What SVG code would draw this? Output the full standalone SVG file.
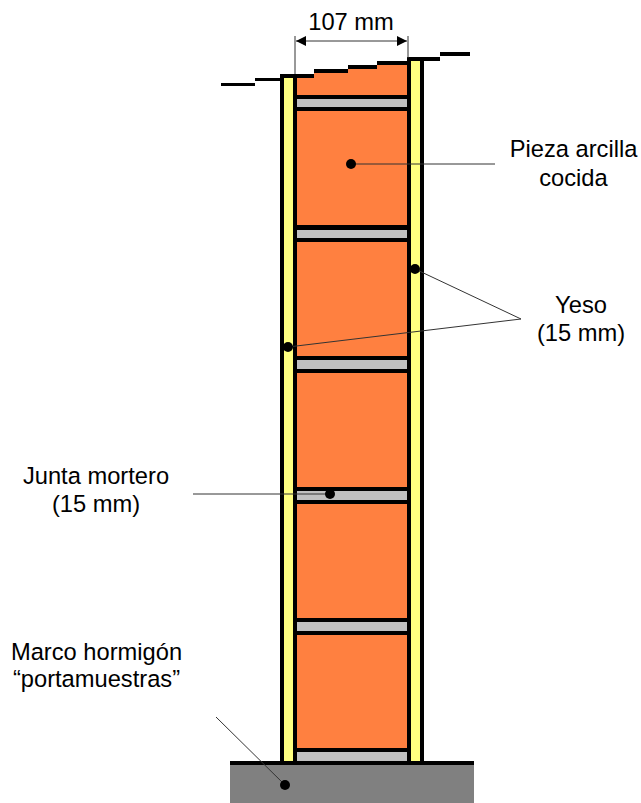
<svg xmlns="http://www.w3.org/2000/svg" width="641" height="803" viewBox="0 0 641 803">
<style>
.k{fill:#000}.o{fill:#ff8040}.y{fill:#ffff80}.g{fill:#c0c0c0}
.l{stroke:#333;stroke-width:1;fill:none}
text{font-family:"Liberation Sans",Arial,sans-serif;font-size:23.7px;fill:#000;text-anchor:middle}
</style>
<defs>
<marker id="a" markerWidth="11" markerHeight="11" refX="10" refY="5" orient="auto-start-reverse" markerUnits="userSpaceOnUse"><path d="M0 0L10 5L0 10Z" fill="#000"/></marker>
</defs>
<rect width="641" height="803" fill="#fff"/>
<g id="base"><rect x="230" y="765" width="244" height="38" fill="#808080"/><rect x="230" y="761" width="244" height="4" class="k"/></g>
<g id="wall">
<path class="o" d="M297 78H314V73H348V69H377V65H407V761H297Z"/>
<rect x="284" y="78" width="9" height="683" class="y"/>
<rect x="411" y="61" width="9" height="700" class="y"/>
<rect x="280" y="74" width="4" height="687" class="k"/>
<rect x="293" y="74" width="4" height="687" class="k"/>
<rect x="407" y="57" width="4" height="704" class="k"/>
<rect x="420" y="57" width="4" height="704" class="k"/>
<g id="joints">
<rect x="293" y="95" width="118" height="16" class="k"/><rect x="297" y="99" width="110" height="8" class="g"/>
<rect x="293" y="225" width="118" height="17" class="k"/><rect x="297" y="230" width="110" height="8" class="g"/>
<rect x="293" y="356" width="118" height="17" class="k"/><rect x="297" y="360" width="110" height="9" class="g"/>
<rect x="293" y="487" width="118" height="17" class="k"/><rect x="297" y="491" width="110" height="9" class="g"/>
<rect x="293" y="618" width="118" height="17" class="k"/><rect x="297" y="622" width="110" height="9" class="g"/>
<rect x="293" y="748" width="118" height="13" class="k"/><rect x="297" y="752" width="110" height="9" class="g"/>
</g>
<g id="top">
<rect x="221" y="83" width="34" height="3" class="k"/>
<rect x="255" y="78" width="26" height="3" class="k"/>
<rect x="280" y="74" width="34" height="4" class="k"/>
<rect x="314" y="69" width="34" height="4" class="k"/>
<rect x="348" y="65" width="29" height="4" class="k"/>
<rect x="377" y="61" width="31" height="4" class="k"/>
<rect x="407" y="57" width="33" height="4" class="k"/>
<rect x="440" y="52" width="30" height="4" class="k"/>
</g>
</g>
<g id="connectors">
<line class="l" x1="295" y1="36" x2="295" y2="74"/>
<line class="l" x1="408" y1="36" x2="408" y2="58"/>
<line class="l" x1="296" y1="41" x2="407" y2="41" marker-start="url(#a)" marker-end="url(#a)"/>
<line class="l" x1="351" y1="164" x2="495" y2="164"/>
<line class="l" x1="415" y1="269" x2="521" y2="319"/>
<line class="l" x1="288" y1="347" x2="521" y2="319"/>
<line class="l" x1="193" y1="494" x2="330" y2="494"/>
<line class="l" x1="216" y1="717" x2="285" y2="785"/>
</g>
<g id="dots" class="k">
<circle cx="351" cy="164" r="5"/><circle cx="415" cy="269" r="5"/><circle cx="288" cy="347" r="5"/><circle cx="330" cy="494" r="5"/><circle cx="285" cy="785" r="5"/>
</g>
<g id="labels">
<text x="351" y="30">107 mm</text>
<text x="573.5" y="157">Pieza arcilla</text><text x="573.5" y="186">cocida</text>
<text x="581" y="313">Yeso</text><text x="581" y="341">(15 mm)</text>
<text x="96" y="484">Junta mortero</text><text x="96" y="512">(15 mm)</text>
<text x="96.500" y="660">Marco hormigón</text><text x="96.500" y="687">“portamuestras”</text>
</g>
</svg>
